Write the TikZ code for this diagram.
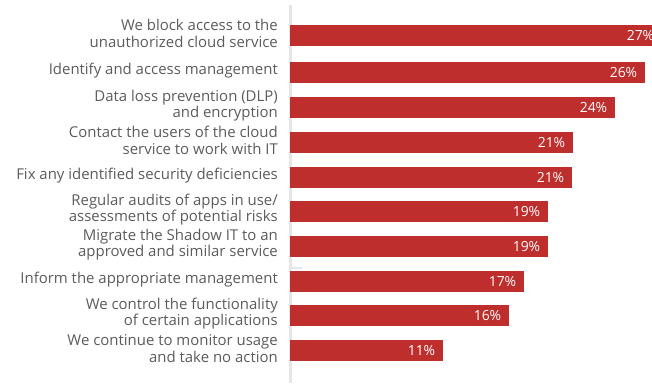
\documentclass[tikz,border=0pt]{standalone}
\usepackage{fontspec}
\setmainfont{Open Sans}
\usetikzlibrary{positioning}
\definecolor{barred}{HTML}{BE2E2C}
\definecolor{labelgray}{HTML}{5B5B5B}
\definecolor{axisgray}{HTML}{E6E6E6}

\begin{document}
\begin{tikzpicture}[x=1bp,y=-1bp,
  bar/.style={fill=barred,inner sep=0pt,minimum height=21bp,anchor=west},
  item/.style={text=labelgray,align=right,anchor=east,inner sep=0pt,font=\fontsize{15}{16.5}\selectfont},
  share/.style={text=white,inner sep=0pt,font=\fontsize{14}{16}\selectfont}]
\useasboundingbox (0,0) rectangle (652,383);
\clip (0,0) rectangle (652,383);
% axis line
\draw[axisgray,line width=2.5bp] (290.5,5) -- (290.5,383);
\draw[axisgray,line width=1.5bp] (290.5,268) -- (302,268);
\foreach \y/\idx/\len/\pct/\txt in {
  35.5/0/372/27/{We block access to the\\unauthorized cloud service},
  72.5/1/355/26/{Identify and access management},
  107.5/2/325/24/{Data loss prevention (DLP)\\and encryption},
  142.5/3/283/21/{Contact the users of the cloud\\service to work with IT},
  177.5/4/282/21/{Fix any identified security deficiencies},
  211.5/5/258/19/{Regular audits of apps in use/\\assessments of potential risks},
  246.5/6/258/19/{Migrate the Shadow IT to an\\approved and similar service},
  281.5/7/234/17/{Inform the appropriate management},
  315.5/8/219/16/{We control the functionality\\of certain applications},
  350.5/9/153/11/{We continue to monitor usage\\and take no action}}{
  \node[bar,minimum width=\len bp] (b\idx) at (290,\y) {};
  \node[share,left=8bp of b\idx.east] (v\idx) {\pct\%};
  \node[item] (l\idx) at (278,\y-2) {\txt};
}
\end{tikzpicture}
\end{document}
